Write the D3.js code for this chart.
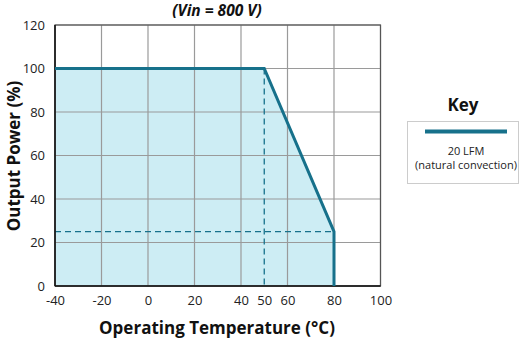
<!DOCTYPE html>
<html><head><meta charset="utf-8">
<script src="https://cdn.jsdelivr.net/npm/d3@7/dist/d3.min.js"></script>
<style>body{margin:0;background:#fff;} text{font-family:"Open Sans",sans-serif;}</style>
</head><body><svg id="c" width="529" height="341"></svg>
<script>
const temps = [-40, 50, 80, 80];
const power = [100, 100, 25, 0];
const xTicks = [-40, -20, 0, 20, 40, 50, 60, 80, 100];
const xGrid = [-40, -20, 0, 20, 40, 60, 80, 100];
const yTicks = [0, 20, 40, 60, 80, 100, 120];
const seriesName = ["20 LFM", "(natural convection)"];
const title = "(Vin = 800 V)";

const svg = d3.select("#c");
const x = d3.scaleLinear().domain([-40, 100]).range([55, 380.5]);
const y = d3.scaleLinear().domain([0, 120]).range([286, 25]);
const teal = "#17718b";

const pts = temps.map((t, i) => [t, power[i]]);
svg.append("path")
  .datum(pts)
  .attr("d", d3.area().x(d => x(d[0])).y0(y(0)).y1(d => y(d[1])))
  .attr("fill", "#cdedf4");

svg.append("g").selectAll("line").data(xGrid).join("line")
  .attr("x1", d => x(d)).attr("x2", d => x(d)).attr("y1", y(0)).attr("y2", y(120))
  .attr("stroke", "#9a9a9a").attr("stroke-width", 1.2);
svg.append("g").selectAll("line").data(yTicks).join("line")
  .attr("y1", d => y(d)).attr("y2", d => y(d)).attr("x1", x(-40)).attr("x2", x(100))
  .attr("stroke", "#9a9a9a").attr("stroke-width", 1.2);

svg.append("line").attr("x1", x(temps[1])).attr("x2", x(temps[1])).attr("y1", y(power[1])).attr("y2", y(0))
  .attr("stroke", teal).attr("stroke-width", 1.3).attr("stroke-dasharray", "6,4");
svg.append("line").attr("x1", x(-40)).attr("x2", x(temps[2])).attr("y1", y(power[2])).attr("y2", y(power[2]))
  .attr("stroke", teal).attr("stroke-width", 1.3).attr("stroke-dasharray", "6,4");

svg.append("rect").attr("x", x(-40)).attr("y", y(120)).attr("width", x(100) - x(-40)).attr("height", y(0) - y(120))
  .attr("fill", "none").attr("stroke", "#555").attr("stroke-width", 1.2);
svg.append("line").attr("x1", x(-40)).attr("x2", x(-40)).attr("y1", y(0)).attr("y2", y(120)).attr("stroke", "#111").attr("stroke-width", 1.5);
svg.append("line").attr("x1", x(-40)).attr("x2", x(100)).attr("y1", y(0)).attr("y2", y(0)).attr("stroke", "#111").attr("stroke-width", 1.5);

svg.append("path").datum(pts)
  .attr("d", d3.line().x(d => x(d[0])).y(d => y(d[1])))
  .attr("fill", "none").attr("stroke", teal).attr("stroke-width", 3);

const xa = svg.append("g").attr("transform", `translate(0,${y(0)})`)
  .call(d3.axisBottom(x).tickValues(xTicks).tickSize(0).tickPadding(10).tickFormat(d => String(d)));
xa.select(".domain").remove();
xa.selectAll("text").attr("font-size", 13).attr("fill", "#222").attr("font-family", "Open Sans");
const ya = svg.append("g").attr("transform", `translate(${x(-40)},0)`)
  .call(d3.axisLeft(y).tickValues(yTicks).tickSize(0).tickPadding(10).tickFormat(d => String(d)));
ya.select(".domain").remove();
ya.selectAll("text").attr("font-size", 13).attr("fill", "#222").attr("font-family", "Open Sans");

svg.append("text").attr("x", 217).attr("y", 334).attr("text-anchor", "middle")
  .attr("font-size", 17).attr("font-weight", "bold").attr("fill", "#111").text("Operating Temperature (°C)");
svg.append("text").attr("transform", "translate(20,156) rotate(-90)").attr("text-anchor", "middle")
  .attr("font-size", 17).attr("font-weight", "bold").attr("fill", "#111").text("Output Power (%)");
svg.append("text").attr("x", 217).attr("y", 16).attr("text-anchor", "middle")
  .attr("font-size", 15.5).attr("font-weight", "bold").attr("font-style", "italic").attr("fill", "#111").text(title);

svg.append("text").attr("x", 463).attr("y", 111).attr("text-anchor", "middle")
  .attr("font-size", 17).attr("font-weight", "bold").attr("fill", "#111").text("Key");
svg.append("rect").attr("x", 407.5).attr("y", 121.5).attr("width", 111).attr("height", 62)
  .attr("fill", "#fff").attr("stroke", "#ccc").attr("stroke-width", 1);
svg.append("line").attr("x1", 425).attr("x2", 507).attr("y1", 131.5).attr("y2", 131.5)
  .attr("stroke", teal).attr("stroke-width", 4);
svg.selectAll(".kt").data(seriesName).join("text").attr("class", "kt")
  .attr("x", 466).attr("y", (d, i) => 155 + i * 14).attr("text-anchor", "middle")
  .attr("font-size", 11).attr("fill", "#222").text(d => d);
</script></body></html>
